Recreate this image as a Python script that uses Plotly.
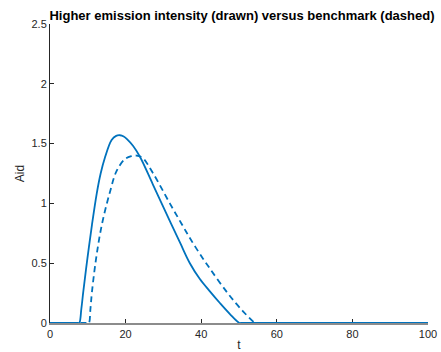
import plotly.graph_objects as go

# Aid path with higher emission intensity (solid line)
t_high = [0, 7.4, 7.75, 8.3, 8.8, 9.9, 11.1, 12.35, 13.4, 14.5, 16.3, 17.5, 18.5,
          19.5, 20.3, 22.0, 23.8, 27.2, 31.9, 34.5, 37.0, 39.6, 42.3, 45.0, 47.6,
          50.1, 50.5, 100]
aid_high = [0, 0, 0, 0.12, 0.26, 0.54, 0.82, 1.08, 1.25, 1.38, 1.53, 1.565, 1.57,
            1.56, 1.54, 1.48, 1.39, 1.16, 0.84, 0.665, 0.50, 0.37, 0.265, 0.165, 0.075,
            0, 0, 0]

# Benchmark aid path (dashed line)
t_bench = [0, 9.95, 10.3, 10.7, 11.1, 12.2, 13.7, 15.9, 17.6, 19.8, 21.5, 22.9, 24.5,
           27.3, 31.7, 34.8, 37.0, 39.6, 42.3, 47.0, 51.0, 54.3, 54.7, 100]
aid_bench = [0, 0, 0, 0.12, 0.26, 0.54, 0.82, 1.10, 1.27, 1.37, 1.395, 1.40, 1.38,
             1.25, 1.00, 0.83, 0.71, 0.58, 0.455, 0.25, 0.10, 0, 0, 0]

x_ticks = [0, 20, 40, 60, 80, 100]
y_ticks = [0, 0.5, 1, 1.5, 2, 2.5]
y_tick_text = ["0", "0.5", "1", "1.5", "2", "2.5"]

line_color = "#0072BD"
font_family = "Liberation Sans, Arial, sans-serif"
text_color = "#262626"

fig = go.Figure()
fig.add_trace(go.Scatter(x=t_high, y=aid_high, mode="lines", cliponaxis=False,
                         line=dict(color=line_color, width=1.8,
                                   shape="spline", smoothing=1.0)))
fig.add_trace(go.Scatter(x=t_bench, y=aid_bench, mode="lines", cliponaxis=False,
                         line=dict(color=line_color, width=1.8, dash="6px,4px",
                                   shape="spline", smoothing=1.0)))

fig.update_layout(
    width=441, height=352,
    margin=dict(l=50, r=13, t=24, b=29),
    plot_bgcolor="white", paper_bgcolor="white",
    showlegend=False,
    font=dict(family=font_family, size=11, color=text_color),
    title=dict(text="<b>Higher emission intensity (drawn) versus benchmark (dashed)</b>",
               font=dict(family=font_family, size=13, color="black"),
               x=242 / 441, xref="container", xanchor="center",
               y=1 - 15 / 352, yref="container", yanchor="middle",
               automargin=False),
    xaxis=dict(range=[0, 100], tickvals=x_ticks, ticks="inside", ticklen=4,
               tickcolor="#262626", showline=True, linecolor="#8c8c8c", linewidth=1.5,
               showgrid=False, zeroline=False, automargin=False, layer="below traces",
               title=dict(text="t", standoff=2, font=dict(size=12))),
    yaxis=dict(range=[0, 2.5], tickvals=y_ticks, ticktext=y_tick_text,
               ticks="inside", ticklen=4, tickcolor="#262626",
               showline=True, linecolor="#262626", linewidth=1,
               showgrid=False, zeroline=False, automargin=False, layer="below traces",
               title=dict(text="Aid", standoff=4, font=dict(size=12))),
)

fig.write_html("out.html")
